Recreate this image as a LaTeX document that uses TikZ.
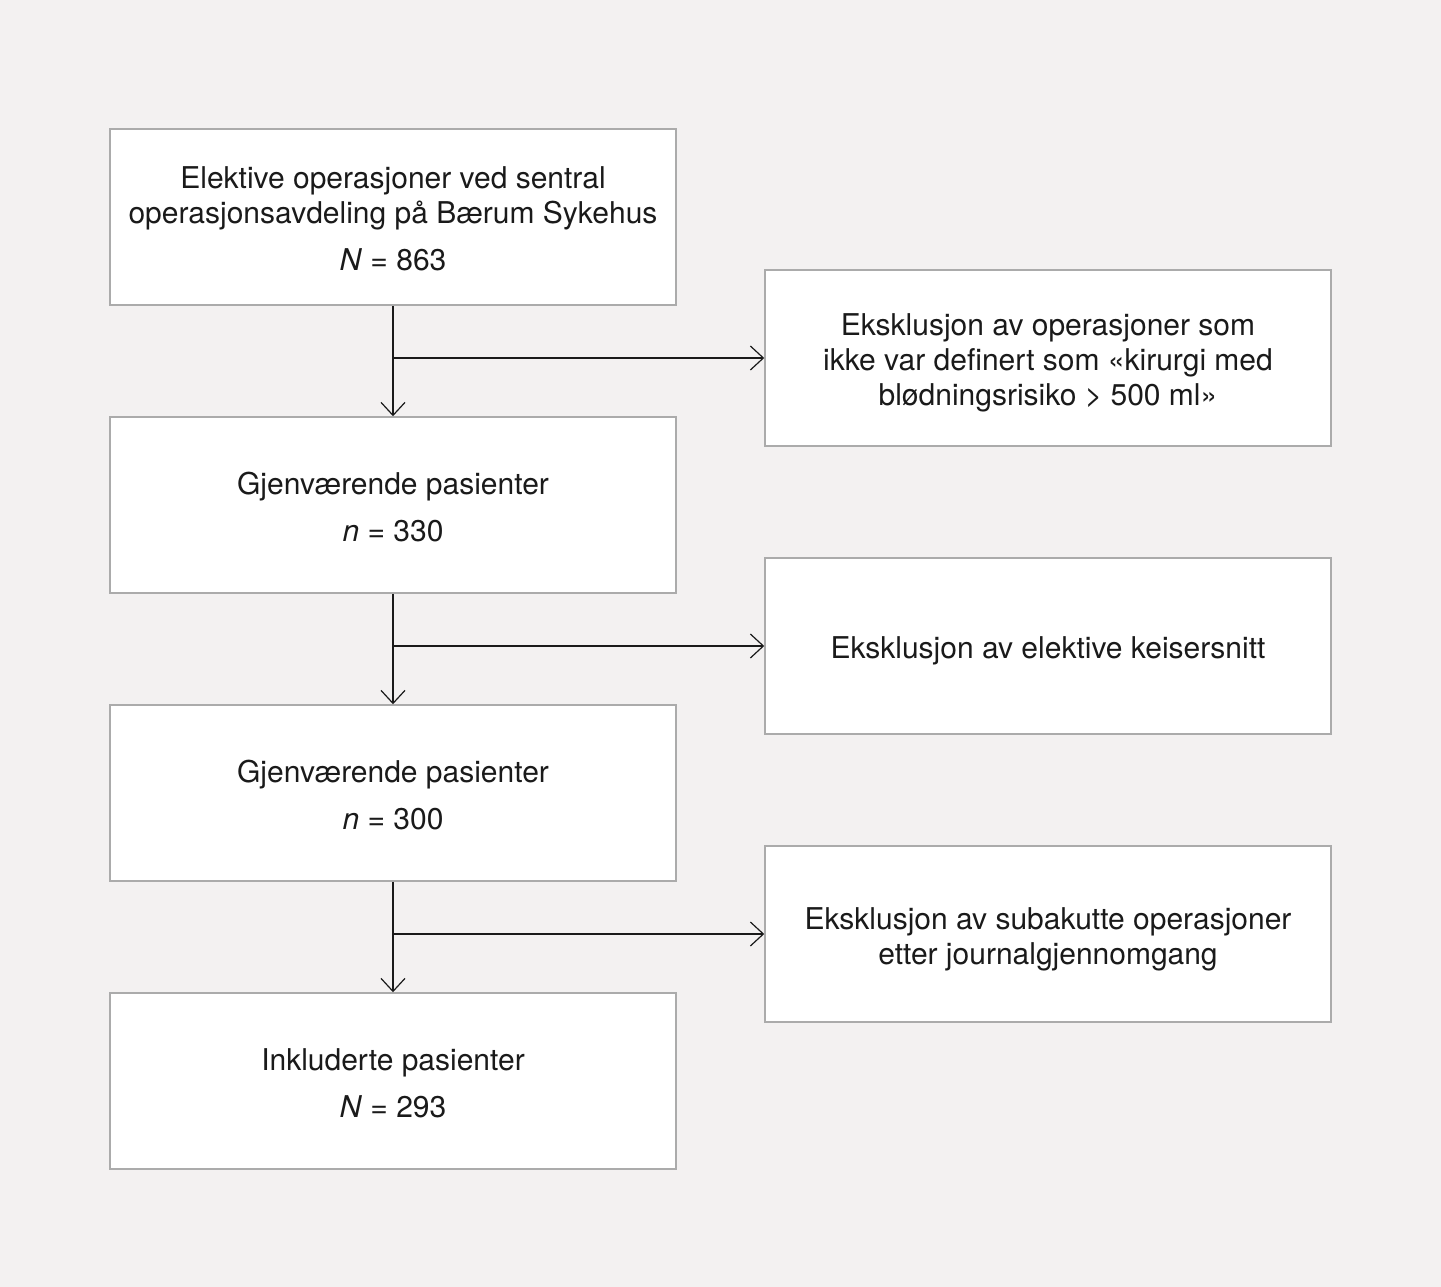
\documentclass[tikz,border=0pt]{standalone}
\usepackage{fontspec}
\setmainfont{TeX Gyre Heros}
\usetikzlibrary{arrows.meta}
\definecolor{bgcol}{HTML}{F3F1F1}
\definecolor{boxline}{HTML}{ABABAB}
\definecolor{ink}{HTML}{1A1A1A}
\newcommand{\lfix}{\rule{0pt}{26pt}}
\newcommand{\rfix}{\rule{0pt}{32pt}}
\begin{document}
\begin{tikzpicture}[x=1pt,y=1pt,
  flowbox/.style={draw=boxline, line width=1.5pt, fill=white, minimum width=566pt, minimum height=176pt, inner sep=0pt, align=center, text=ink, font=\fontsize{30}{35}\selectfont},
  flowarrow/.style={draw=ink, line width=1.2pt, -{Straight Barb[length=13pt,width=24pt,line width=1.2pt]}}]
\fill[bgcol] (0,0) rectangle (1441,-1287);
\useasboundingbox (0,0) rectangle (1441,-1287);

\node[flowbox] (b1) at (393,-217) {\lfix Elektive operasjoner ved sentral\\operasjonsavdeling på Bærum Sykehus\\[12pt]\textit{N} = 863};
\node[flowbox] (b2) at (393,-505) {\lfix Gjenværende pasienter\\[12pt]\textit{n} = 330};
\node[flowbox] (b3) at (393,-793) {\lfix Gjenværende pasienter\\[12pt]\textit{n} = 300};
\node[flowbox] (b4) at (393,-1081) {\lfix Inkluderte pasienter\\[12pt]\textit{N} = 293};

\node[flowbox] (r1) at (1048,-358) {\rfix Eksklusjon av operasjoner som\\ikke var definert som «kirurgi med\\blødningsrisiko > 500 ml»};
\node[flowbox] (r2) at (1048,-646) {\rfix Eksklusjon av elektive keisersnitt};
\node[flowbox] (r3) at (1048,-934) {\rfix Eksklusjon av subakutte operasjoner\\etter journalgjennomgang};

\coordinate (j1) at (b1.south |- r1.west);
\coordinate (j2) at (b2.south |- r2.west);
\coordinate (j3) at (b3.south |- r3.west);

\draw[flowarrow] (b1.south) -- (b2.north);
\draw[flowarrow] (b2.south) -- (b3.north);
\draw[flowarrow] (b3.south) -- (b4.north);
\draw[flowarrow] (j1) -- (r1.west);
\draw[flowarrow] (j2) -- (r2.west);
\draw[flowarrow] (j3) -- (r3.west);
\end{tikzpicture}
\end{document}
